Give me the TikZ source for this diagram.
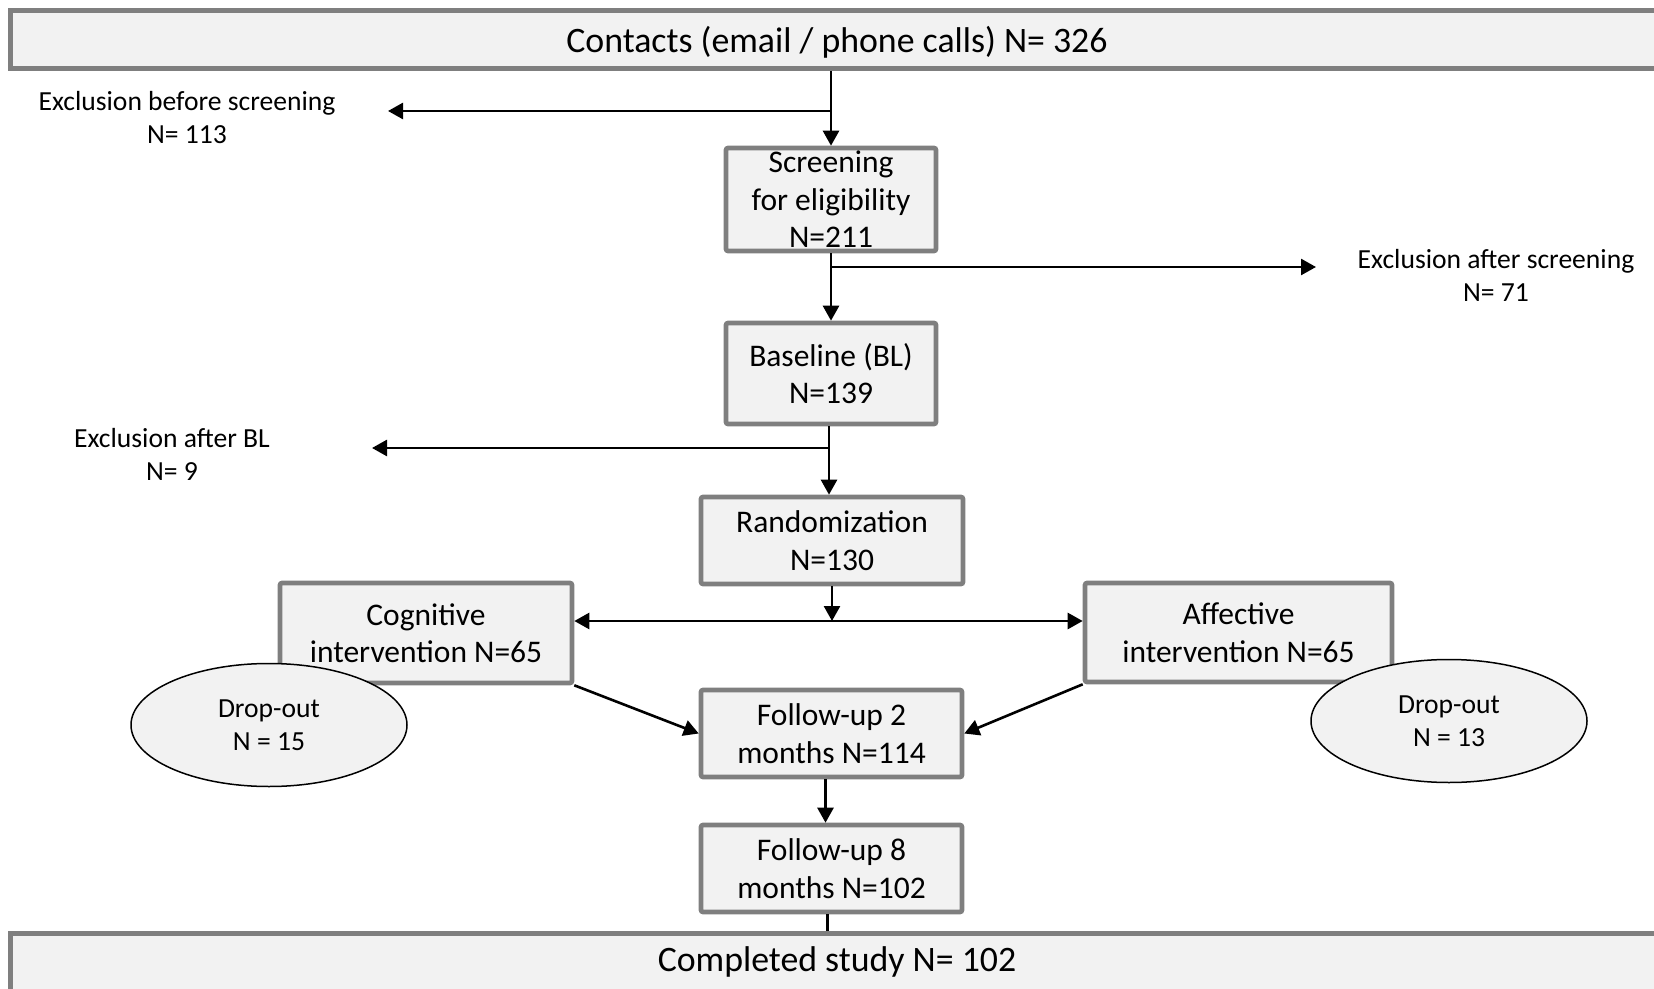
\documentclass[tikz,border=0pt]{standalone}
\usepackage{fontspec}
\setmainfont{Carlito}
\usetikzlibrary{arrows.meta,shapes.geometric}
\definecolor{boxgray}{HTML}{7F7F7F}
\definecolor{boxfill}{HTML}{F2F2F2}
\tikzset{
  stagebox/.style={draw=boxgray, fill=boxfill, line width=2.3pt, rounded corners=1pt,
    inner sep=0pt, align=center, font=\fontsize{15.75}{18.75}\selectfont},
  widebox/.style={draw=boxgray, fill=boxfill, line width=2.5pt,
    inner sep=0pt, align=center, font=\fontsize{17.9}{21}\selectfont,
    minimum width=827pt},
  dropout/.style={ellipse, draw=black, fill=boxfill, line width=0.75pt, inner sep=0pt,
    minimum width=138pt, minimum height=61.5pt, align=center,
    font=\fontsize{13.8}{16.5}\selectfont},
  exclabel/.style={inner sep=0pt, align=center, font=\fontsize{13.8}{16.5}\selectfont},
  arr/.style={line width=1.3pt, -{Triangle[length=7.5pt,width=8pt]}},
  dblarr/.style={line width=1.3pt, {Triangle[length=7.5pt,width=8pt]}-{Triangle[length=7.5pt,width=8pt]}},
  plain/.style={line width=1.3pt}
}
\begin{document}
\begin{tikzpicture}[x=0.5pt,y=-0.5pt]
\useasboundingbox (0,0) rectangle (1654,989);
\clip (0,0) rectangle (1654,989);

% boxes
\node[widebox, minimum height=29pt, text depth=0.5pt] (contacts) at (837,39.5) {Contacts (email / phone calls) N= 326};
\node[stagebox, minimum width=105pt, minimum height=51.5pt] (screen) at (831,199.5) {Screening\\for eligibility\\N=211};
\node[stagebox, minimum width=105pt, minimum height=50.5pt] (base) at (831,373.5) {Baseline (BL)\\N=139};
\node[stagebox, minimum width=131pt, minimum height=43.5pt] (random) at (832,540.5) {Randomization\\N=130};
\node[stagebox, minimum width=146pt, minimum height=50pt] (cog) at (426,633) {Cognitive\\intervention N=65};
\node[stagebox, minimum width=153.5pt, minimum height=49.5pt] (aff) at (1238.5,632.5) {Affective\\intervention N=65};
\node[stagebox, minimum width=130.5pt, minimum height=43.5pt] (fu2) at (831.5,733.5) {Follow-up 2\\months N=114};
\node[stagebox, minimum width=130.5pt, minimum height=43.5pt] (fu8) at (831.5,868.5) {Follow-up 8\\months N=102};
\node[widebox, minimum height=29pt] (done) at (837,962) {Completed study N= 102};

% drop-out ellipses
\node[dropout] (dropL) at (269,725) {Drop-out\\N = 15};
\node[dropout] (dropR) at (1449,721) {Drop-out\\N = 13};

% exclusion labels
\node[exclabel] (exA) at (187,118) {Exclusion before screening\\N= 113};
\node[exclabel] (exB) at (1496,275) {Exclusion after screening\\N= 71};
\node[exclabel] (exC) at (172,454) {Exclusion after BL\\N= 9};

% branch coordinates
\coordinate (bA) at (831,111);
\coordinate (eA) at (388,111);
\coordinate (bB) at (831,267);
\coordinate (eB) at (1316,267);
\coordinate (bC) at (829,448);
\coordinate (eC) at (372,448);
\coordinate (split) at (832,621);

% connectors
\draw[arr] (contacts.south -| screen) -- (screen.north);
\draw[arr] (bA) -- (eA);
\draw[arr] (screen.south) -- (base.north);
\draw[arr] (bB) -- (eB);
\draw[arr] (base.south -| bC) -- (random.north -| bC);
\draw[arr] (bC) -- (eC);
\draw[arr] (random.south -| split) -- (split);
\draw[dblarr] (cog.east |- split) -- (aff.west |- split);
\draw[arr] (cog.south east) -- (fu2.west);
\draw[arr] (aff.south west) -- (fu2.east);
\draw[arr] ([xshift=-3pt]fu2.south) -- ([xshift=-3pt]fu8.north);
\draw[plain] ([xshift=-2pt]fu8.south) -- ([xshift=-2pt]fu8.south |- done.north);
\end{tikzpicture}
\end{document}
